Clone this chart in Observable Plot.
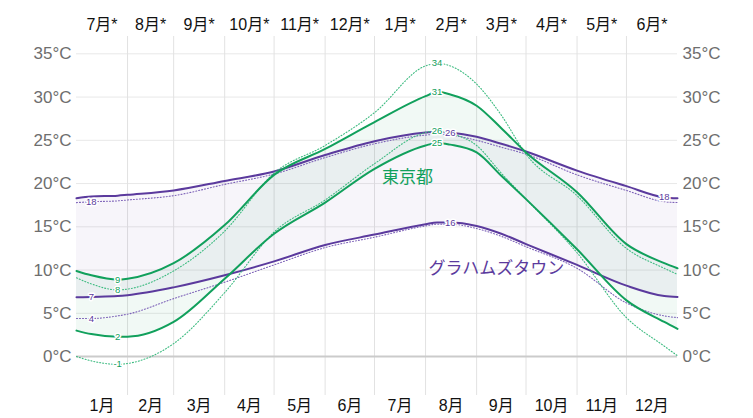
<!DOCTYPE html>
<html>
<head>
<meta charset="utf-8">
<script src="https://cdn.jsdelivr.net/npm/d3@7"></script>
<script src="https://cdn.jsdelivr.net/npm/@observablehq/plot@0.6"></script>
<style>
  html, body { margin: 0; padding: 0; background: #fff; }
  #chart { width: 753px; height: 418px; }
</style>
</head>
<body>
<div id="chart"></div>
<script>
// Day-of-year sample positions (0 = Jan 1, 365 = Dec 31 end)
const days = [0, 9, 25, 31, 59, 90, 120, 151, 181, 212, 219, 227, 243, 258, 273, 304, 334, 357, 365];

// 東京都 (Tokyo)
const tokyoHigh      = [9.9, 9.4, 8.9, 9.0, 10.8, 15.2, 21.0, 24.0, 27.1, 30.1, 30.6, 30.3, 29.0, 26.4, 23.6, 19.0, 13.0, 10.8, 10.2];
const tokyoLow       = [3.0, 2.6, 2.3, 2.3, 4.0, 9.0, 14.2, 17.8, 21.7, 24.4, 24.7, 24.5, 23.6, 20.9, 18.2, 12.4, 6.5, 4.0, 3.2];
const tokyoFeelsHigh = [9.1, 8.4, 7.7, 7.8, 9.9, 14.5, 21.2, 24.4, 28.2, 33.6, 33.9, 33.6, 31.5, 27.9, 23.4, 18.6, 12.5, 10.2, 9.5];
const tokyoFeelsLow  = [0.0, -0.5, -0.9, -0.8, 1.5, 7.4, 14.4, 18.1, 22.3, 25.9, 26.1, 25.8, 24.4, 21.2, 18.2, 12.0, 4.5, 1.2, 0.1];

// グラハムズタウン (Grahamstown, shifted by six months)
const grahamHigh      = [18.3, 18.5, 18.6, 18.7, 19.2, 20.3, 21.4, 23.3, 24.9, 25.9, 26.0, 25.9, 25.4, 24.6, 23.7, 21.5, 19.7, 18.4, 18.3];
const grahamLow       = [6.85, 6.9, 7.0, 7.1, 8.0, 9.4, 11.0, 12.9, 14.1, 15.3, 15.5, 15.5, 15.1, 14.2, 13.0, 10.6, 8.2, 7.0, 6.9];
const grahamFeelsHigh = [17.8, 17.9, 18.0, 18.1, 18.6, 19.9, 21.1, 23.0, 24.6, 25.6, 25.7, 25.6, 25.0, 24.2, 23.4, 21.0, 19.2, 17.9, 17.8];
const grahamFeelsLow  = [4.4, 4.4, 4.7, 4.9, 6.7, 8.6, 10.6, 12.6, 13.8, 15.1, 15.3, 15.3, 14.8, 13.9, 12.7, 10.2, 6.2, 4.7, 4.5];

// Axes
const monthStarts = [0, 31, 59, 90, 120, 151, 181, 212, 243, 273, 304, 334, 365];
const bottomMonthLabels = ["1月","2月","3月","4月","5月","6月","7月","8月","9月","10月","11月","12月"];
const topMonthLabels = ["7月*","8月*","9月*","10月*","11月*","12月*","1月*","2月*","3月*","4月*","5月*","6月*"];
const yTicks = [0, 5, 10, 15, 20, 25, 30, 35];

// Series names and their placement
const seriesNames = ["東京都", "グラハムズタウン"];
const seriesNameDay = [201, 255];
const seriesNameTemp = [20.7, 10.2];

// Value labels: [series, day]
const valueLabelSpec = [
  ["tokyoHigh", 25], ["tokyoFeelsHigh", 25], ["tokyoLow", 25], ["tokyoFeelsLow", 25],
  ["tokyoHigh", 219], ["tokyoFeelsHigh", 219], ["tokyoLow", 219], ["tokyoFeelsLow", 219],
  ["grahamFeelsHigh", 9], ["grahamLow", 9], ["grahamFeelsLow", 9],
  ["grahamHigh", 227], ["grahamLow", 227], ["grahamHigh", 357]
];

const GREEN = "#11a05c";
const GREEN_DOT = "#3dbb80";
const PURPLE = "#5b3a9d";
const PURPLE_DOT = "#7d62b8";

const series = {tokyoHigh, tokyoLow, tokyoFeelsHigh, tokyoFeelsLow, grahamHigh, grahamLow, grahamFeelsHigh, grahamFeelsLow};
const table = days.map((d, i) => {
  const row = {day: d};
  for (const k in series) row[k] = series[k][i];
  return row;
});
const labelRows = valueLabelSpec.map(([k, d]) => ({
  day: d, value: series[k][days.indexOf(d)], tokyo: k.startsWith("tokyo")
}));
const midDays = monthStarts.slice(0, 12).map((s, i) => (s + monthStarts[i + 1]) / 2);
const bottomByDay = new Map(midDays.map((d, i) => [d, bottomMonthLabels[i]]));
const topByDay = new Map(midDays.map((d, i) => [d, topMonthLabels[i]]));
const nameRows = seriesNames.map((n, i) => ({name: n, day: seriesNameDay[i], temp: seriesNameTemp[i]}));

const curve = "monotone-x";
const lineOpts = (y, stroke, dotted) => ({
  x: "day", y, curve, stroke,
  strokeWidth: dotted ? 1.1 : 2,
  strokeDasharray: dotted ? "1,2" : null
});

const chart = Plot.plot({
  width: 753,
  height: 418,
  marginLeft: 76,
  marginRight: 76,
  marginTop: 36,
  marginBottom: 23,
  x: {domain: [0, 365]},
  y: {domain: [-4.5, 37]},
  style: {fontFamily: "'Liberation Sans', 'Noto Sans CJK JP', sans-serif", background: "#fff", overflow: "visible"},
  marks: [
    Plot.ruleY(yTicks.filter(t => t !== 0), {stroke: "#e8e8e8", strokeWidth: 1}),
    Plot.ruleX(monthStarts.slice(1, 12), {stroke: "#e2e2e2", strokeWidth: 1}),
    Plot.ruleY([0], {stroke: "#cbcbcb", strokeWidth: 2}),
    Plot.areaY(table, {x: "day", y1: "grahamLow", y2: "grahamHigh", curve, fill: PURPLE, fillOpacity: 0.05}),
    Plot.areaY(table, {x: "day", y1: "tokyoLow", y2: "tokyoHigh", curve, fill: GREEN, fillOpacity: 0.06}),
    Plot.line(table, lineOpts("grahamFeelsHigh", PURPLE_DOT, true)),
    Plot.line(table, lineOpts("grahamFeelsLow", PURPLE_DOT, true)),
    Plot.line(table, lineOpts("grahamHigh", PURPLE, false)),
    Plot.line(table, lineOpts("grahamLow", PURPLE, false)),
    Plot.line(table, lineOpts("tokyoFeelsHigh", GREEN_DOT, true)),
    Plot.line(table, lineOpts("tokyoFeelsLow", GREEN_DOT, true)),
    Plot.line(table, lineOpts("tokyoHigh", GREEN, false)),
    Plot.line(table, lineOpts("tokyoLow", GREEN, false)),
    Plot.text(labelRows.filter(d => d.tokyo), {x: "day", y: "value", text: d => String(Math.round(d.value)), fill: GREEN, stroke: "#fff", strokeWidth: 3, fontSize: 9.5}),
    Plot.text(labelRows.filter(d => !d.tokyo), {x: "day", y: "value", text: d => String(Math.round(d.value)), fill: PURPLE, stroke: "#fff", strokeWidth: 3, fontSize: 9.5}),
    Plot.text(nameRows.slice(0, 1), {x: "day", y: "temp", text: "name", fill: GREEN, fontSize: 17}),
    Plot.text(nameRows.slice(1), {x: "day", y: "temp", text: "name", fill: PURPLE, fontSize: 17}),
    Plot.axisY(yTicks, {anchor: "left", tickSize: 0, tickPadding: 5, tickFormat: d => `${d}°C`, fontSize: 17, fill: "#6e6e6e", label: null}),
    Plot.axisY(yTicks, {anchor: "right", tickSize: 0, tickPadding: 5, tickFormat: d => `${d}°C`, fontSize: 17, fill: "#6e6e6e", label: null}),
    Plot.axisX(midDays, {anchor: "bottom", tickSize: 0, tickPadding: 4, tickFormat: d => bottomByDay.get(d), fontSize: 16, fill: "#111", label: null}),
    Plot.axisX(midDays, {anchor: "top", tickSize: 0, tickPadding: 7, tickFormat: d => topByDay.get(d), fontSize: 16, fill: "#111", label: null})
  ]
});
document.getElementById("chart").appendChild(chart);
</script>
</body>
</html>
